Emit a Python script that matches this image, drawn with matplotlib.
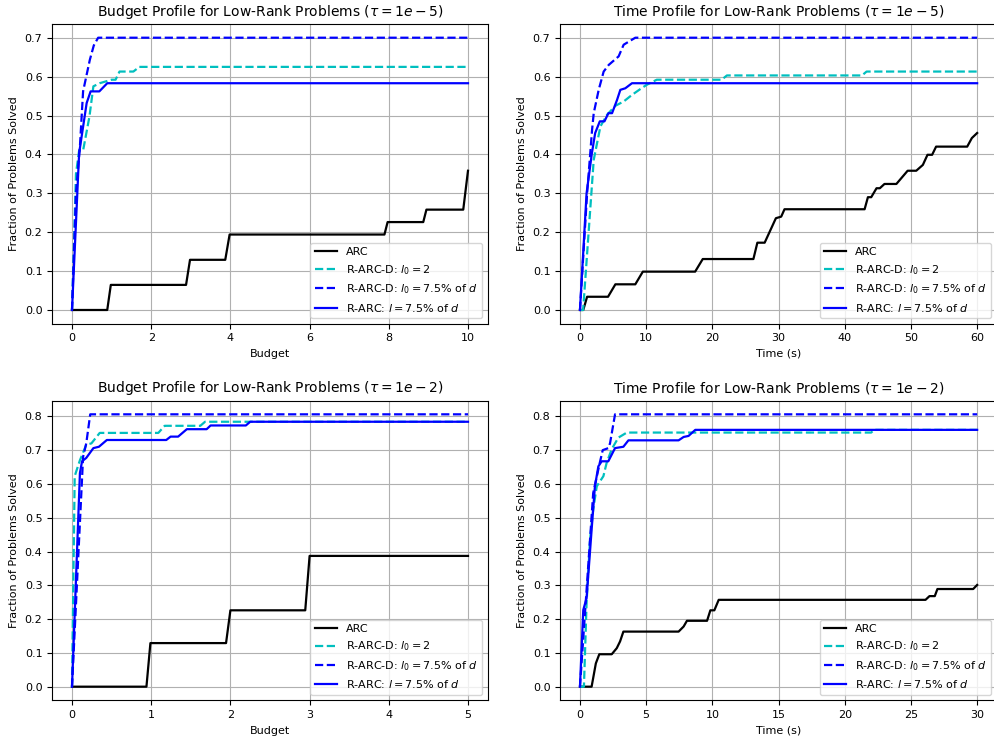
import matplotlib
matplotlib.use("Agg")
import matplotlib.pyplot as plt

# ---------------- data ----------------
# Top-left: Budget profile, tau = 1e-5
tl_arc_x = [0, 0.89, 0.98, 2.88, 2.98, 3.87, 3.98, 7.89, 7.97, 8.87, 8.95, 9.88, 10.0]
tl_arc_y = [0, 0, 0.0645, 0.0645, 0.129, 0.129, 0.194, 0.194, 0.226, 0.226, 0.258, 0.258, 0.358]
tl_d2_x = [0, 0.1, 0.18, 0.28, 0.44, 0.54, 0.7, 1.0, 1.1, 1.2, 1.55, 1.7, 10.0]
tl_d2_y = [0, 0.35, 0.41, 0.41, 0.497, 0.575, 0.583, 0.592, 0.592, 0.613, 0.613, 0.625, 0.625]
tl_d75_x = [0, 0.1, 0.2, 0.28, 0.45, 0.55, 0.66, 10.0]
tl_d75_y = [0, 0.30, 0.42, 0.562, 0.643, 0.68, 0.70, 0.70]
tl_r_x = [0, 0.18, 0.37, 0.47, 0.69, 0.89, 10.0]
tl_r_y = [0, 0.403, 0.532, 0.562, 0.562, 0.583, 0.583]

# Top-right: Time profile, tau = 1e-5
tr_arc_x = [0, 0.5, 1.08, 4.24, 5.35, 8.36, 9.5, 17.4, 18.55, 26.2, 26.8, 27.9, 29.6, 30.4, 30.9,
            43.0, 43.5, 44.0, 44.8, 45.3, 46.0, 47.8, 49.5, 50.8, 51.8, 52.5, 53.2, 53.8, 58.5, 59.2, 60.0]
tr_arc_y = [0, 0, 0.034, 0.034, 0.066, 0.066, 0.0986, 0.0986, 0.131, 0.131, 0.173, 0.173, 0.236, 0.24, 0.259,
            0.259, 0.29, 0.29, 0.313, 0.313, 0.324, 0.324, 0.358, 0.358, 0.373, 0.399, 0.399, 0.42, 0.42, 0.442, 0.455]
tr_d2_x = [0, 0.48, 2.08, 3.09, 4.1, 5.35, 6.6, 7.86, 9.37, 10.1, 11.6, 21.4, 22.2, 42.6, 43.3, 60.0]
tr_d2_y = [0, 0, 0.386, 0.472, 0.502, 0.525, 0.536, 0.553, 0.571, 0.579, 0.592, 0.592, 0.603, 0.603, 0.613, 0.613]
tr_d75_x = [0, 1.08, 1.83, 2.08, 2.83, 3.58, 4.34, 5.84, 6.6, 8.36, 60.0]
tr_d75_y = [0, 0.30, 0.463, 0.506, 0.566, 0.613, 0.63, 0.652, 0.682, 0.70, 0.70]
tr_r_x = [0, 1.0, 1.8, 2.3, 3.0, 3.7, 4.3, 4.85, 5.6, 6.1, 6.85, 7.86, 60.0]
tr_r_y = [0, 0.30, 0.403, 0.455, 0.485, 0.485, 0.506, 0.506, 0.54, 0.566, 0.57, 0.583, 0.583]

# Bottom-left: Budget profile, tau = 1e-2
bl_arc_x = [0, 0.94, 0.99, 1.945, 2.0, 2.945, 3.0, 5.0]
bl_arc_y = [0, 0, 0.129, 0.129, 0.226, 0.226, 0.387, 0.387]
bl_d2_x = [0, 0.034, 0.1, 0.18, 0.245, 0.35, 1.09, 1.17, 1.62, 1.68, 5.0]
bl_d2_y = [0, 0.623, 0.67, 0.716, 0.72, 0.751, 0.751, 0.772, 0.772, 0.784, 0.784]
bl_d75_x = [0, 0.14, 0.18, 0.23, 5.0]
bl_d75_y = [0, 0.68, 0.72, 0.806, 0.806]
bl_r_x = [0, 0.1, 0.127, 0.18, 0.27, 0.34, 0.44, 1.19, 1.245, 1.34, 1.45, 1.70, 1.75, 2.195, 2.25, 5.0]
bl_r_y = [0, 0.632, 0.667, 0.677, 0.706, 0.71, 0.73, 0.73, 0.74, 0.74, 0.762, 0.762, 0.773, 0.773, 0.784, 0.784]

# Bottom-right: Time profile, tau = 1e-2
br_arc_x = [0, 0.88, 1.2, 1.46, 2.4, 2.78, 3.03, 3.28, 7.45, 7.83, 8.08, 9.6, 9.85, 10.15, 10.48,
            26.1, 26.4, 26.8, 27.0, 29.7, 30.0]
br_arc_y = [0, 0, 0.069, 0.096, 0.096, 0.114, 0.134, 0.163, 0.163, 0.178, 0.195, 0.195, 0.226, 0.226, 0.257,
            0.257, 0.268, 0.268, 0.289, 0.289, 0.301]
br_d2_x = [0, 0.3, 0.5, 0.76, 1.0, 1.27, 1.52, 1.77, 2.02, 2.4, 2.9, 3.54, 22.0, 22.2, 30.0]
br_d2_y = [0, 0, 0.247, 0.435, 0.524, 0.593, 0.608, 0.623, 0.663, 0.703, 0.737, 0.752, 0.752, 0.76, 0.76]
br_d75_x = [0, 1.0, 1.5, 1.72, 2.14, 2.27, 2.65, 30.0]
br_d75_y = [0, 0.573, 0.663, 0.70, 0.706, 0.72, 0.806, 0.806]
br_r_x = [0, 0.25, 0.5, 0.88, 1.13, 1.39, 1.64, 2.14, 2.65, 3.28, 3.66, 7.45, 7.83, 8.2, 8.71, 30.0]
br_r_y = [0, 0.227, 0.262, 0.464, 0.593, 0.652, 0.667, 0.667, 0.706, 0.71, 0.729, 0.729, 0.739, 0.742, 0.76, 0.76]

labels = ["ARC", r"R-ARC-D: $l_0 = 2$", r"R-ARC-D: $l_0 = 7.5\%$ of $d$", r"R-ARC: $l = 7.5\%$ of $d$"]
titles = [r"Budget Profile for Low-Rank Problems ($\tau = 1e-5$)",
          r"Time Profile for Low-Rank Problems ($\tau = 1e-5$)",
          r"Budget Profile for Low-Rank Problems ($\tau = 1e-2$)",
          r"Time Profile for Low-Rank Problems ($\tau = 1e-2$)"]
xlabels = ["Budget", "Time (s)", "Budget", "Time (s)"]

panels = [
    [(tl_arc_x, tl_arc_y), (tl_d2_x, tl_d2_y), (tl_d75_x, tl_d75_y), (tl_r_x, tl_r_y)],
    [(tr_arc_x, tr_arc_y), (tr_d2_x, tr_d2_y), (tr_d75_x, tr_d75_y), (tr_r_x, tr_r_y)],
    [(bl_arc_x, bl_arc_y), (bl_d2_x, bl_d2_y), (bl_d75_x, bl_d75_y), (bl_r_x, bl_r_y)],
    [(br_arc_x, br_arc_y), (br_d2_x, br_d2_y), (br_d75_x, br_d75_y), (br_r_x, br_r_y)],
]
styles = [dict(color="k", ls="-"), dict(color="c", ls="--"), dict(color="b", ls="--"), dict(color="b", ls="-")]

W, H = 994, 738
fig = plt.figure(figsize=(W / 100, H / 100), dpi=100)
positions = [
    (52.2, 24.1, 435.6, 299.5),
    (560.1, 24.1, 436.9, 299.5),
    (52.2, 400.7, 435.6, 299.6),
    (560.1, 400.7, 436.9, 299.6),
]
for i, (pos, series) in enumerate(zip(positions, panels)):
    l, t, w, h = pos
    ax = fig.add_axes([l / W, 1 - (t + h) / H, w / W, h / H])
    for (x, y), st, lab in zip(series, styles, labels):
        ax.plot(x, y, lw=1.6, label=lab, **st)
    ax.set_title(titles[i], fontsize=10)
    ax.set_xlabel(xlabels[i], fontsize=8)
    ax.set_ylabel("Fraction of Problems Solved", fontsize=8)
    ax.tick_params(labelsize=8)
    ax.grid(True)
    ax.legend(loc="lower right", fontsize=8)

fig.savefig("out.png", dpi=100)
